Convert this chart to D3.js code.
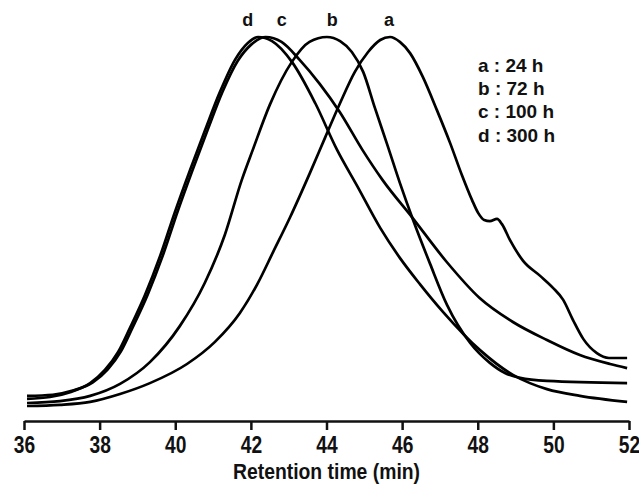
<!DOCTYPE html>
<html>
<head>
<meta charset="utf-8">
<script src="https://cdn.jsdelivr.net/npm/d3@7"></script>
<style>
  body { margin: 0; background: #fff; }
  svg text { font-family: "Liberation Sans", Arial, sans-serif; font-weight: bold; fill: #111; }
  .axis path, .axis line { stroke: #111; stroke-width: 2.5px; }
  .trace { fill: none; stroke: #000; stroke-width: 2.7px; stroke-linejoin: round; }
</style>
</head>
<body>
<div id="chart"></div>
<script>
// retention time (min) and normalised detector response for each sample
const timeA = [36.08, 36.95, 37.75, 38.54, 39.33, 40.31, 41.05, 41.71, 42.16, 42.59, 43.04, 43.56, 43.96, 44.36, 44.75, 45.10, 45.42, 45.68,
               45.94, 46.21, 46.55, 46.92, 47.27, 47.58, 47.85, 48.01, 48.17, 48.32, 48.51, 48.64, 48.85, 49.20, 49.65, 49.99,
               50.26, 50.52, 50.79, 51.15, 51.47, 51.95];
const signalA = [1.6, 1.9, 2.7, 4.8, 7.7, 12.8, 18.7, 26.4, 33.9, 42.7, 52.0, 63.7, 73.1, 82.4, 90.7, 96.0, 99.2, 100,
                 98.7, 95.7, 89.3, 80.5, 71.7, 63.2, 56.5, 53.1, 51.2, 50.9, 51.5, 50.1, 45.9, 40.3, 36.3, 33.1,
                 29.9, 24.5, 19.5, 15.7, 14.4, 14.4];

const timeB = [36.08, 36.95, 37.75, 38.54, 39.33, 40.12, 40.78, 41.31, 41.76, 42.05, 42.50, 43.08, 43.55, 44.01,
               44.36, 44.67, 44.97, 45.28, 45.60, 45.94, 46.29, 46.74, 47.19, 47.80, 48.32, 48.72, 49.12, 49.83, 51.95];
const signalB = [2.4, 2.9, 4.3, 7.5, 13.3, 22.9, 34.4, 47.2, 61.9, 69.9, 81.9, 93.3, 98.7, 100,
                 98.9, 96.0, 90.7, 81.1, 71.5, 61.1, 51.2, 39.5, 28.5, 18.4, 13.1, 10.4, 9.1, 8.3, 7.7];

const timeC = [36.08, 36.76, 37.29, 37.82, 38.21, 38.56, 38.87, 39.27, 39.67, 40.06, 40.46, 40.86, 41.25, 41.65, 42.00, 42.39,
               42.81, 43.29, 43.82, 44.35, 44.95, 45.48, 46.28, 47.18, 48.05, 48.93, 49.83, 50.70, 51.50, 51.95];
const signalC = [4.3, 4.6, 5.7, 7.9, 11.3, 16.1, 22.5, 31.3, 41.7, 53.4, 64.6, 75.3, 85.4, 93.6, 97.9, 100,
                 98.7, 93.9, 87.5, 80.0, 69.9, 61.9, 51.7, 40.0, 30.4, 24.0, 19.2, 15.2, 12.8, 11.7];

const timeD = [36.08, 36.69, 37.22, 37.75, 38.14, 38.49, 38.80, 39.20, 39.60, 39.99, 40.39, 40.79, 41.18, 41.58, 41.92, 42.19,
               42.56, 43.09, 43.70, 44.28, 44.81, 45.42, 45.94, 46.47, 47.08, 48.06, 48.93, 49.38, 49.83, 50.70, 51.95];
const signalD = [3.5, 4.0, 5.3, 7.7, 11.2, 16.0, 22.4, 31.2, 41.6, 53.3, 64.5, 75.2, 85.3, 93.9, 98.4, 100,
                 98.9, 93.3, 82.4, 69.9, 60.3, 49.1, 41.1, 34.1, 26.7, 16.5, 9.9, 7.7, 6.1, 4.3, 2.7];

const legendLabels = ["a : 24 h", "b : 72 h", "c : 100 h", "d : 300 h"];
const peakLabelNames = ["d", "c", "b", "a"];
const peakLabelTimes = [41.92, 42.82, 44.15, 45.65];
const xTicks = [36, 38, 40, 42, 44, 46, 48, 50, 52];

function render() {
  const width = 639, height = 487;
  const svg = d3.select("#chart").append("svg").attr("width", width).attr("height", height);

  const x = d3.scaleLinear().domain([36, 52]).range([24, 629]);
  const y = d3.scaleLinear().domain([0, 100]).range([412, 37]);
  const axisY = 421;

  const traces = [
    d3.zip(timeA, signalA),
    d3.zip(timeB, signalB),
    d3.zip(timeC, signalC),
    d3.zip(timeD, signalD)
  ];

  const line = d3.line()
    .x(d => x(d[0]))
    .y(d => y(d[1]))
    .curve(d3.curveMonotoneX);

  svg.selectAll(".trace")
    .data(traces)
    .enter()
    .append("path")
    .attr("class", "trace")
    .attr("d", line);

  svg.selectAll(".peak-label")
    .data(peakLabelNames)
    .enter()
    .append("text")
    .attr("class", "peak-label")
    .attr("x", (d, i) => x(peakLabelTimes[i]))
    .attr("y", 26)
    .attr("text-anchor", "middle")
    .style("font-size", "18px")
    .text(d => d);

  svg.selectAll(".legend")
    .data(legendLabels)
    .enter()
    .append("text")
    .attr("class", "legend")
    .attr("x", 478)
    .attr("y", (d, i) => 71.5 + i * 23.4)
    .style("font-size", "19px")
    .text(d => d);

  const axis = svg.append("g")
    .attr("class", "axis")
    .attr("transform", `translate(0,${axisY})`)
    .call(d3.axisBottom(x).tickValues(xTicks).tickSize(9).tickSizeOuter(0).tickPadding(6));
  // condensed look of the original tick labels
  axis.selectAll("text")
    .style("font-size", "24px")
    .attr("fill", "#111")
    .attr("transform", "scale(0.8,1)");

  svg.append("g")
    .attr("transform", `translate(${(x(36) + x(52)) / 2},479)`)
    .append("text")
    .attr("text-anchor", "middle")
    .attr("transform", "scale(0.88,1)")
    .style("font-size", "22px")
    .text("Retention time (min)");
}

render();
</script>
</body>
</html>
